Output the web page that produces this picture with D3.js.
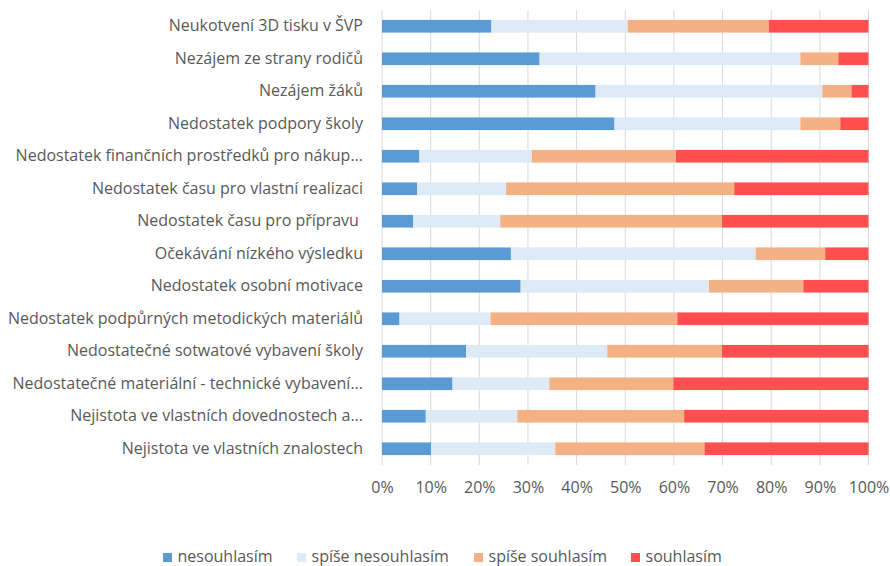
<!DOCTYPE html>
<html><head><meta charset="utf-8">
<script src="https://cdn.jsdelivr.net/npm/d3@7"></script>
<style>body{margin:0;background:#fff}svg{display:block}</style>
</head><body>
<svg id="c" width="890" height="566"></svg>
<script>
const categories = [
  "Neukotvení 3D tisku v ŠVP",
  "Nezájem ze strany rodičů",
  "Nezájem žáků",
  "Nedostatek podpory školy",
  "Nedostatek finančních prostředků pro nákup...",
  "Nedostatek času pro vlastní realizaci",
  "Nedostatek času pro přípravu ",
  "Očekávání nízkého výsledku",
  "Nedostatek osobní motivace",
  "Nedostatek podpůrných metodických materiálů",
  "Nedostatečné sotwatové vybavení školy",
  "Nedostatečné materiální - technické vybavení...",
  "Nejistota ve vlastních dovednostech a...",
  "Nejistota ve vlastních znalostech"
];
const seriesNames = ["nesouhlasím", "spíše nesouhlasím", "spíše souhlasím", "souhlasím"];
const nesouhlasim      = [22.5, 32.4, 43.9, 47.8, 7.7, 7.2, 6.4, 26.5, 28.5, 3.6, 17.3, 14.5, 9.0, 10.1];
const spiseNesouhlasim = [28.0, 53.6, 46.6, 38.2, 23.1, 18.3, 17.9, 50.3, 38.7, 18.7, 29.0, 19.9, 18.8, 25.5];
const spiseSouhlasim   = [29.0, 7.8, 6.0, 8.2, 29.6, 46.9, 45.6, 14.3, 19.4, 38.4, 23.6, 25.5, 34.3, 30.7];
const souhlasim        = [20.5, 6.2, 3.5, 5.8, 39.6, 27.6, 30.1, 8.9, 13.4, 39.3, 30.1, 40.1, 37.9, 33.7];
const tickValues = [0, 0.1, 0.2, 0.3, 0.4, 0.5, 0.6, 0.7, 0.8, 0.9, 1];
const colors = ["#5B9BD5", "#DEEBF7", "#F4B183", "#FF4F4F"];

const seriesValues = [nesouhlasim, spiseNesouhlasim, spiseSouhlasim, souhlasim];
const rows = categories.map((c, i) => {
  const o = {cat: c};
  seriesNames.forEach((s, j) => o[s] = seriesValues[j][i]);
  return o;
});
const stacked = d3.stack().keys(seriesNames).offset(d3.stackOffsetExpand)(rows);

const svg = d3.select("#c");
const font = "'Open Sans', Lato, sans-serif";
const fs = "16px";
const textCol = "#595959";
const x = d3.scaleLinear().domain([0, 1]).range([382, 868.5]);
const y = d3.scaleBand().domain(categories).range([10, 465]).paddingInner(0.61).paddingOuter(0.305);

// gridlines
svg.append("g").selectAll("line").data(tickValues).join("line")
  .attr("x1", d => x(d)).attr("x2", d => x(d))
  .attr("y1", 10).attr("y2", 465)
  .attr("stroke", "#d9d9d9").attr("stroke-width", 1);

// bars
svg.append("g").selectAll("g").data(stacked).join("g")
  .attr("fill", (d, i) => colors[i])
  .selectAll("rect").data(d => d).join("rect")
  .attr("x", d => x(d[0])).attr("width", d => x(d[1]) - x(d[0]))
  .attr("y", d => y(d.data.cat)).attr("height", y.bandwidth());

// y labels
const yAxis = svg.append("g").attr("transform", "translate(382,0)")
  .call(d3.axisLeft(y).tickSize(0).tickPadding(19));
yAxis.select(".domain").remove();
yAxis.selectAll("text").attr("fill", textCol).style("font-family", font).style("font-size", fs)
  .style("white-space", "pre").attr("xml:space", "preserve");

// x labels
const xAxis = svg.append("g").attr("transform", "translate(0,465)")
  .call(d3.axisBottom(x).tickValues(tickValues).tickFormat(d3.format(".0%")).tickSize(0).tickPadding(17));
xAxis.select(".domain").remove();
xAxis.selectAll("text").attr("fill", textCol).style("font-family", font).style("font-size", fs);

// legend
const legendX = [163, 297, 474, 631];
const lg = svg.append("g").selectAll("g").data(seriesNames).join("g")
  .attr("transform", (d, i) => `translate(${legendX[i]},553)`);
lg.append("rect").attr("width", 9).attr("height", 9).attr("fill", (d, i) => colors[i]);
lg.append("text").attr("x", 14.5).attr("y", 9).text(d => d)
  .attr("fill", textCol).style("font-family", font).style("font-size", fs);
</script>
</body></html>
